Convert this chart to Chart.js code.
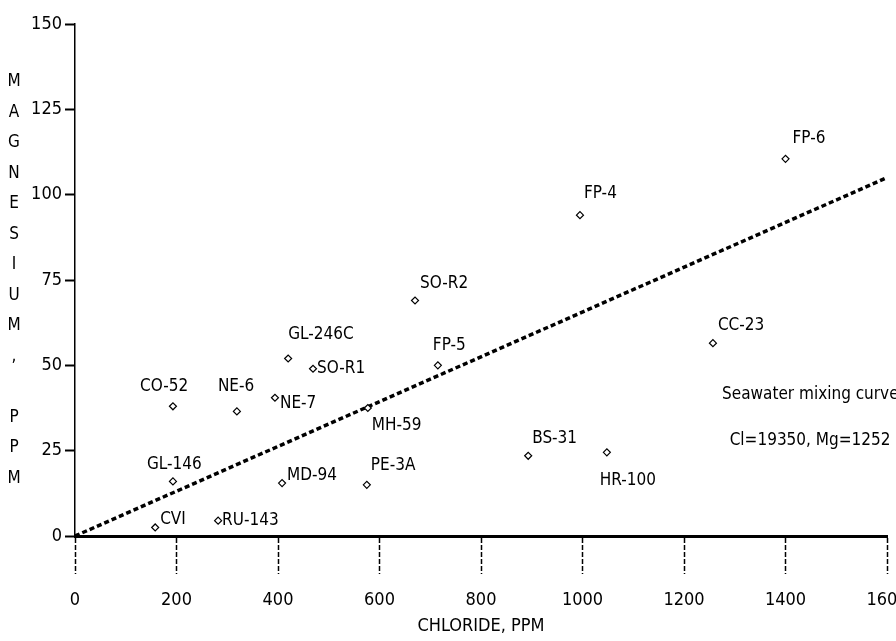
<!DOCTYPE html>
<html>
<head>
<meta charset="utf-8">
<script src="https://cdn.jsdelivr.net/npm/chart.js@4"></script>
<style>
  html, body { margin: 0; padding: 0; background: #fff; }
  #wrap { width: 896px; height: 641px; }
</style>
</head>
<body>
<div id="wrap"><canvas id="c" width="896" height="641"></canvas></div>
<script>
// well samples: chloride (ppm) vs magnesium (ppm)
const sampleNames = ["FP-6", "FP-4", "CC-23", "SO-R2", "FP-5", "GL-246C", "SO-R1", "NE-7", "NE-6",
  "CO-52", "GL-146", "CVI", "RU-143", "MD-94", "PE-3A", "MH-59", "BS-31", "HR-100"];
const chloride = [1400, 995, 1257, 670, 715, 420, 469, 394, 319, 193, 193, 158, 282, 408, 575, 577, 893, 1048];
const magnesium = [110.5, 94, 56.5, 69, 50, 52, 49, 40.5, 36.5, 38, 16, 2.5, 4.5, 15.5, 15, 37.5, 23.5, 24.5];

// seawater mixing line end points
const mixCl = [0, 1600];
const mixMg = [0, 105];

const xTicks = [0, 200, 400, 600, 800, 1000, 1200, 1400, 1600];
const yTicks = [0, 25, 50, 75, 100, 125, 150];

// label offsets from each marker (pixels), same order as sampleNames
const labelOffset = [[7, -20], [4, -22], [5, -18], [5, -17], [-5, -20], [0, -24], [4, 0], [5, 6], [-19, -25],
  [-33, -20], [-26, -17], [5, -8], [4, 0], [5, -8], [4, -19], [4, 18], [4, -17], [-7, 28]];

const FONT = '"DejaVu Sans Condensed", "DejaVu Sans", sans-serif';

const pts = chloride.map((x, i) => ({ x: x, y: magnesium[i] }));
const mix = mixCl.map((x, i) => ({ x: x, y: mixMg[i] }));

const labelPlugin = {
  id: "sampleLabels",
  afterDatasetsDraw(chart) {
    const ctx = chart.ctx;
    const meta = chart.getDatasetMeta(0);
    ctx.save();
    ctx.fillStyle = "#000";
    ctx.font = "17px " + FONT;
    ctx.textAlign = "left";
    ctx.textBaseline = "middle";
    meta.data.forEach((el, i) => {
      const off = labelOffset[i];
      ctx.fillText(sampleNames[i], el.x + off[0], el.y + off[1]);
    });
    // note on the mixing curve
    const xs = chart.scales.x, ys = chart.scales.y;
    ctx.fillText("Seawater mixing curve", xs.getPixelForValue(1275), ys.getPixelForValue(41.5));
    ctx.fillText("Cl=19350, Mg=1252", xs.getPixelForValue(1290), ys.getPixelForValue(28));
    // stacked y-axis title
    const title = "MAGNESIUM, PPM";
    ctx.textAlign = "center";
    for (let i = 0; i < title.length; i++) {
      ctx.fillText(title[i], 14, 82 + i * 30.5);
    }
    ctx.restore();
  }
};

new Chart(document.getElementById("c"), {
  type: "scatter",
  data: {
    datasets: [
      {
        data: pts,
        pointStyle: "rectRot",
        pointRadius: 3.5,
        borderWidth: 1.2,
        borderColor: "#000",
        backgroundColor: "#fff",
        showLine: false
      },
      {
        data: mix,
        showLine: true,
        borderColor: "#000",
        borderWidth: 3.5,
        borderDash: [5, 3],
        pointRadius: 0
      }
    ]
  },
  options: {
    responsive: false,
    animation: false,
    layout: { padding: { top: 24, right: 9, left: 0, bottom: 0 } },
    plugins: {
      legend: { display: false },
      tooltip: { enabled: false }
    },
    scales: {
      x: {
        type: "linear",
        min: 0,
        max: 1600,
        afterBuildTicks(scale) { scale.ticks = xTicks.map(v => ({ value: v })); },
        afterFit(scale) {
          scale.height = 105;
          scale.paddingLeft = 0;
          scale.paddingRight = 0;
        },
        border: { color: "#000", width: 3 },
        grid: {
          drawOnChartArea: false,
          drawTicks: true,
          tickLength: 38,
          tickColor: "#000",
          tickWidth: 1.5,
          tickBorderDash: [5, 2]
        },
        ticks: {
          color: "#000",
          padding: 16,
          maxRotation: 0,
          callback: v => String(v),
          font: { family: FONT, size: 18 }
        },
        title: {
          display: true,
          text: "CHLORIDE, PPM",
          color: "#000",
          font: { family: FONT, size: 18 },
          padding: { top: 4, bottom: 4 }
        }
      },
      y: {
        type: "linear",
        min: 0,
        max: 150,
        afterBuildTicks(scale) { scale.ticks = yTicks.map(v => ({ value: v })); },
        afterFit(scale) { scale.width = 75; },
        border: { color: "#000", width: 1.5, dash: [6, 2] },
        grid: {
          drawOnChartArea: false,
          drawTicks: true,
          tickLength: 10,
          tickColor: "#000",
          tickWidth: 2
        },
        ticks: {
          color: "#000",
          padding: 3,
          font: { family: FONT, size: 18 }
        }
      }
    }
  },
  plugins: [labelPlugin]
});
</script>
</body>
</html>
